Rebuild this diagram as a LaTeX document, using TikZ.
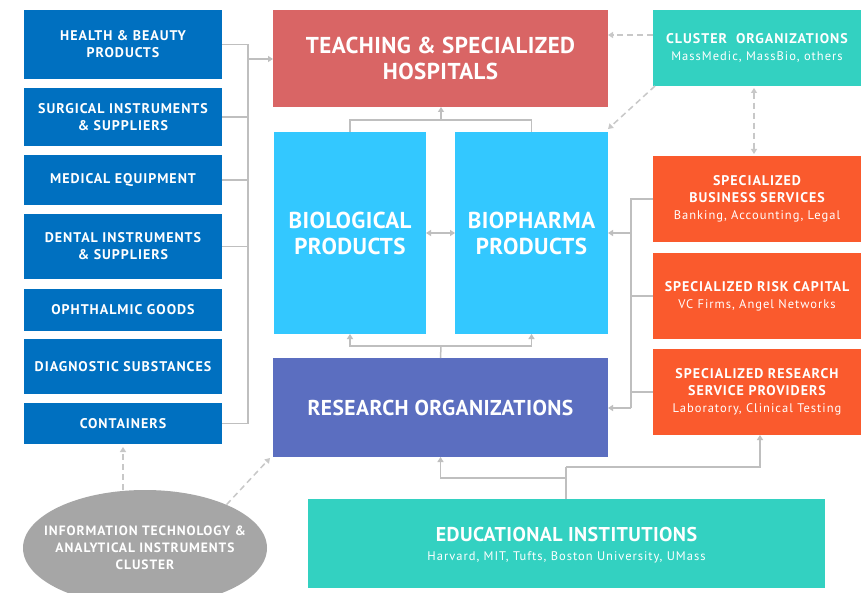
\documentclass[tikz,border=0pt]{standalone}
\usepackage{fontspec}
\setmainfont{PT Sans}
\newfontfamily\lsA[LetterSpace=7]{PT Sans}
\newfontfamily\lsB[LetterSpace=8]{PT Sans}
\newfontfamily\lsC[LetterSpace=2]{PT Sans}
\usetikzlibrary{arrows.meta,calc,shapes.geometric}
\definecolor{lblue}{RGB}{0,112,192}
\definecolor{hosp}{RGB}{217,101,101}
\definecolor{sky}{RGB}{51,200,255}
\definecolor{resc}{RGB}{91,110,192}
\definecolor{teal}{RGB}{51,209,193}
\definecolor{orng}{RGB}{250,90,45}
\definecolor{ellc}{RGB}{166,166,166}
\definecolor{conc}{RGB}{191,191,191}
\definecolor{dashc}{RGB}{200,200,200}
\newcommand\subtxt{\lsB\mdseries\fontsize{12.5}{17}\selectfont}
\begin{document}
\begin{tikzpicture}[x=1pt,y=-1pt,
  boxs/.style={draw=none,inner sep=0pt,outer sep=0pt,text=white,align=center,font=\bfseries},
  leftbox/.style={boxs,fill=lblue,minimum width=198pt,font=\lsA\bfseries\fontsize{14}{17}\selectfont},
  bigbox/.style={boxs,font=\lsC\bfseries\fontsize{23}{26}\selectfont},
  rightbox/.style={boxs,fill=orng,minimum width=208pt,minimum height=86pt,font=\lsA\bfseries\fontsize{14}{17}\selectfont},
  line/.style={draw=conc,line width=1.5pt},
  arr/.style={line,-{Triangle[width=6pt,length=5pt]}},
  dasharr/.style={draw=dashc,line width=1.5pt,dash pattern=on 6pt off 4pt,-{Triangle[width=6pt,length=5pt]}},
  dashdarr/.style={draw=dashc,line width=1.5pt,dash pattern=on 6pt off 4pt,{Triangle[width=6pt,length=5pt]}-{Triangle[width=6pt,length=5pt]}}
]
\fill[white] (0,0) rectangle (861,593);
\useasboundingbox (0,0) rectangle (861,593);

% left column
\node[leftbox,minimum height=69pt] (health) at (123,44.5) {HEALTH \& BEAUTY\\PRODUCTS};
\node[leftbox,minimum height=58pt] (surg) at (123,117) {SURGICAL INSTRUMENTS\\\& SUPPLIERS};
\node[leftbox,minimum height=50pt] (med) at (123,180) {MEDICAL EQUIPMENT};
\node[leftbox,minimum height=65pt] (dent) at (123,246.5) {DENTAL INSTRUMENTS\\\& SUPPLIERS};
\node[leftbox,minimum height=42pt] (oph) at (123,310) {OPHTHALMIC GOODS};
\node[leftbox,minimum height=55pt] (diag) at (123,366.5) {DIAGNOSTIC SUBSTANCES};
\node[leftbox,minimum height=41pt] (cont) at (123,423.5) {CONTAINERS};

% centre
\node[bigbox,fill=hosp,minimum width=335pt,minimum height=97pt] (hosp) at (440.5,58.5) {TEACHING \& SPECIALIZED\\HOSPITALS};
\node[bigbox,fill=sky,minimum width=152pt,minimum height=202pt] (bio) at (350,233) {BIOLOGICAL\\PRODUCTS};
\node[bigbox,fill=sky,minimum width=153pt,minimum height=202pt] (pharma) at (531.5,233) {BIOPHARMA\\PRODUCTS};
\node[bigbox,fill=resc,minimum width=335pt,minimum height=99pt,font=\lsC\bfseries\fontsize{21.5}{26}\selectfont] (res) at (440.5,407.5) {RESEARCH ORGANIZATIONS};
\node[boxs,fill=teal,minimum width=517pt,minimum height=89pt,font=\lsC\bfseries\fontsize{20}{22}\selectfont] (edu) at (566.5,543.5) {\rule{0pt}{18pt}EDUCATIONAL INSTITUTIONS\\[-3pt]{\subtxt Harvard, MIT, Tufts, Boston University, UMass}};

% right column
\node[rightbox,fill=teal,minimum height=76pt] (clu) at (757,48) {CLUSTER\ \ ORGANIZATIONS\\{\subtxt MassMedic, MassBio, others}};
\node[rightbox] (bus) at (757,199) {SPECIALIZED\\BUSINESS SERVICES\\{\subtxt Banking, Accounting, Legal}};
\node[rightbox] (risk) at (757,296) {SPECIALIZED RISK CAPITAL\\{\subtxt VC Firms, Angel Networks}};
\node[rightbox] (rserv) at (757,392) {SPECIALIZED RESEARCH\\SERVICE PROVIDERS\\{\subtxt Laboratory, Clinical Testing}};

% ellipse
\node[ellipse,fill=ellc,minimum width=244pt,minimum height=116pt,inner sep=0pt] (ell) at (145,548) {};
\node[text=white,align=center,inner sep=0pt,font=\lsA\bfseries\fontsize{13.5}{17}\selectfont] (elltxt) at (ell.center) {INFORMATION TECHNOLOGY \&\\ANALYTICAL INSTRUMENTS\\CLUSTER};

% left bus
\coordinate (ltop) at (248,44.5);
\coordinate (lbot) at (248,423.5);
\coordinate (lj) at (248,59);
\draw[line] (health.east) -- (ltop) -- (lbot) -- (cont.east);
\draw[line] (surg.east) -- (surg.east -| ltop);
\draw[line] (med.east) -- (med.east -| ltop);
\draw[line] (dent.east) -- (dent.east -| ltop);
\draw[arr] (lj) -- (lj -| hosp.west);

% bio products to hospital
\coordinate (bt) at (441,120);
\draw[line] (bio.north) |- (bt) -| (pharma.north);
\draw[arr] (bt) -- (bt |- hosp.south);
\draw[{Triangle[width=6pt,length=5pt]}-{Triangle[width=6pt,length=5pt]},line] (bio.east) -- (pharma.west);

% research to products
\coordinate (rt) at (441,346);
\draw[line] (res.north) -- (rt);
\draw[arr] (rt) -| (bio.south);
\draw[arr] (rt) -| (pharma.south);

% right bus
\coordinate (rb1) at (631,199);
\coordinate (rb2) at (631,408);
\draw[line] (bus.west) -- (rb1) -- (rb2);
\draw[arr] (rb2) -- (rb2 -| res.east);
\draw[line] (risk.west) -- (risk.west -| rb1);
\draw[line] (rserv.west) -- (rserv.west -| rb1);
\draw[arr] (rb1 |- pharma.east) -- (pharma.east);

% education
\coordinate (e1) at (566,467);
\coordinate (e2) at (566,478);
\draw[line] (edu.north -| e1) -- (e1);
\draw[arr] (e1) -| ($(rserv.south)+(3,0)$);
\draw[arr] (e2) -| (res.south);

% dashed
\draw[dasharr] ($(clu.west)+(0,-13)$) -- ($(clu.west)+(-45,-13)$);
\draw[dasharr] ($(clu.south west)+(2,0)$) -- ($(pharma.north east)+(0,-3)$);
\draw[dashdarr] ($(clu.south)+(-3,2)$) -- ($(bus.north)+(-3,-2)$);
\draw[dasharr] (cont.south |- ell.north) -- ($(cont.south)+(0,3)$);
\draw[dasharr] (ell.28) -- ($(res.south west)+(-3,1)$);
\end{tikzpicture}
\end{document}
